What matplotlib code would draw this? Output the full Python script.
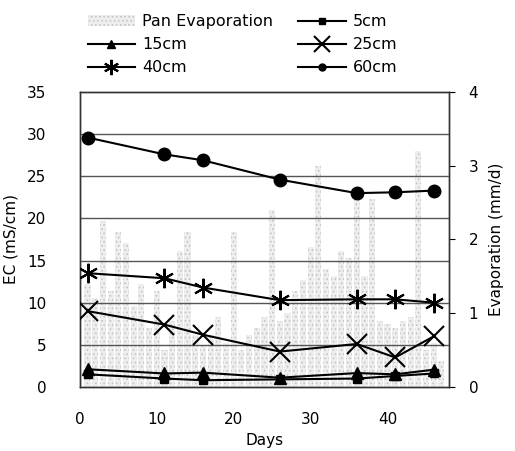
import numpy as np
import matplotlib.pyplot as plt
from matplotlib.patches import Patch
from matplotlib.lines import Line2D

# sampling days for EC at each depth
days = [1, 11, 16, 26, 36, 41, 46]
ec_5cm = [1.5, 1.0, 0.8, 0.9, 1.0, 1.3, 1.6]
ec_15cm = [2.1, 1.6, 1.7, 1.1, 1.65, 1.5, 2.05]
ec_25cm = [9.0, 7.4, 6.2, 4.2, 5.1, 3.5, 6.0]
ec_40cm = [13.5, 12.9, 11.8, 10.3, 10.4, 10.4, 10.0]
ec_60cm = [29.6, 27.6, 26.9, 24.6, 23.0, 23.1, 23.3]

# daily pan evaporation (mm/d)
evap_days = list(range(1, 48))
evap = [1.4, 1.2, 2.25, 1.3, 2.1, 1.95, 1.1, 1.4, 0.8, 1.3,
        0.5, 0.9, 1.85, 2.1, 0.7, 0.55, 0.7, 0.95, 0.6, 2.1,
        0.5, 0.7, 0.8, 0.95, 2.4, 0.9, 1.0, 1.3, 1.45, 1.9,
        3.0, 1.6, 1.5, 1.85, 1.75, 2.6, 1.5, 2.55, 0.9, 0.85,
        0.8, 0.9, 0.95, 3.2, 0.5, 0.6, 0.35]

plt.rcParams['font.family'] = ['DejaVu Sans']
plt.rcParams['font.size'] = 11
plt.rcParams['hatch.linewidth'] = 0.7

fig = plt.figure(figsize=(5.15, 4.51), dpi=100)
ax2 = fig.add_axes([0.155, 0.142, 0.717, 0.654])
ax = ax2.twinx()
ax.yaxis.tick_left()
ax.yaxis.set_label_position('left')
ax2.yaxis.tick_right()
ax2.yaxis.set_label_position('right')

# evaporation bars (right axis)
ax2.bar(evap_days, evap, width=0.8, color='#eeeeee', hatch='....',
        edgecolor='#c4c4c4', linewidth=0, zorder=1)
ax2.set_ylim(0, 4)
ax2.set_yticks([0, 1, 2, 3, 4])
ax2.set_ylabel('Evaporation (mm/d)', labelpad=8)
ax2.tick_params(axis='y', direction='out', length=4, pad=10)

# EC lines (left axis)
ax.set_zorder(ax2.get_zorder() + 1)
ax.patch.set_visible(False)
for y in [5, 10, 15, 20, 25, 30]:
    ax.axhline(y, color='#555555', lw=1, zorder=1)

kw = dict(color='black', lw=1.5, zorder=3)
ax.plot(days, ec_5cm, marker='s', ms=6, **kw)
ax.plot(days, ec_15cm, marker='^', ms=9, **kw)
ax.plot(days, ec_25cm, marker='x', ms=14, mew=1.5, **kw)
ax.plot(days, ec_40cm, marker=(6, 2, 0), ms=14, mew=1.5, **kw)
ax.plot(days, ec_60cm, marker='o', ms=9, **kw)

ax.set_ylim(0, 35)
ax.set_yticks(range(0, 40, 5))
ax.set_xlim(0, 48)
ax.set_xticks([0, 10, 20, 30, 40])
ax.set_ylabel('EC (mS/cm)', labelpad=6)
ax2.set_xlabel('Days', labelpad=4)
ax.tick_params(axis='y', length=0, pad=24)
ax2.tick_params(axis='x', length=0, pad=18)
for a in (ax, ax2):
    for s in a.spines.values():
        s.set_color('#333333')
        s.set_linewidth(1)

# legend (row order: Pan, 5cm / 15cm, 25cm / 40cm, 60cm)
lk = dict(color='black', lw=1.5)
pan = Patch(facecolor='#eeeeee', hatch='....', edgecolor='#c4c4c4', linewidth=0,
            label='Pan Evaporation')
h5 = Line2D([], [], marker='s', ms=5, label='5cm', **lk)
h15 = Line2D([], [], marker='^', ms=6, label='15cm', **lk)
h25 = Line2D([], [], marker='x', ms=11, mew=1.5, label='25cm', **lk)
h40 = Line2D([], [], marker=(6, 2, 0), ms=11, mew=1.5, label='40cm', **lk)
h60 = Line2D([], [], marker='o', ms=5, label='60cm', **lk)
fig.legend(handles=[pan, h15, h40, h5, h25, h60], ncol=2, frameon=False,
           loc='upper left', bbox_to_anchor=(0.142, 1.0),
           handlelength=3.0, handletextpad=0.4, columnspacing=1.6,
           labelspacing=0.5, fontsize=11.5)

fig.savefig('out.png', dpi=100)
